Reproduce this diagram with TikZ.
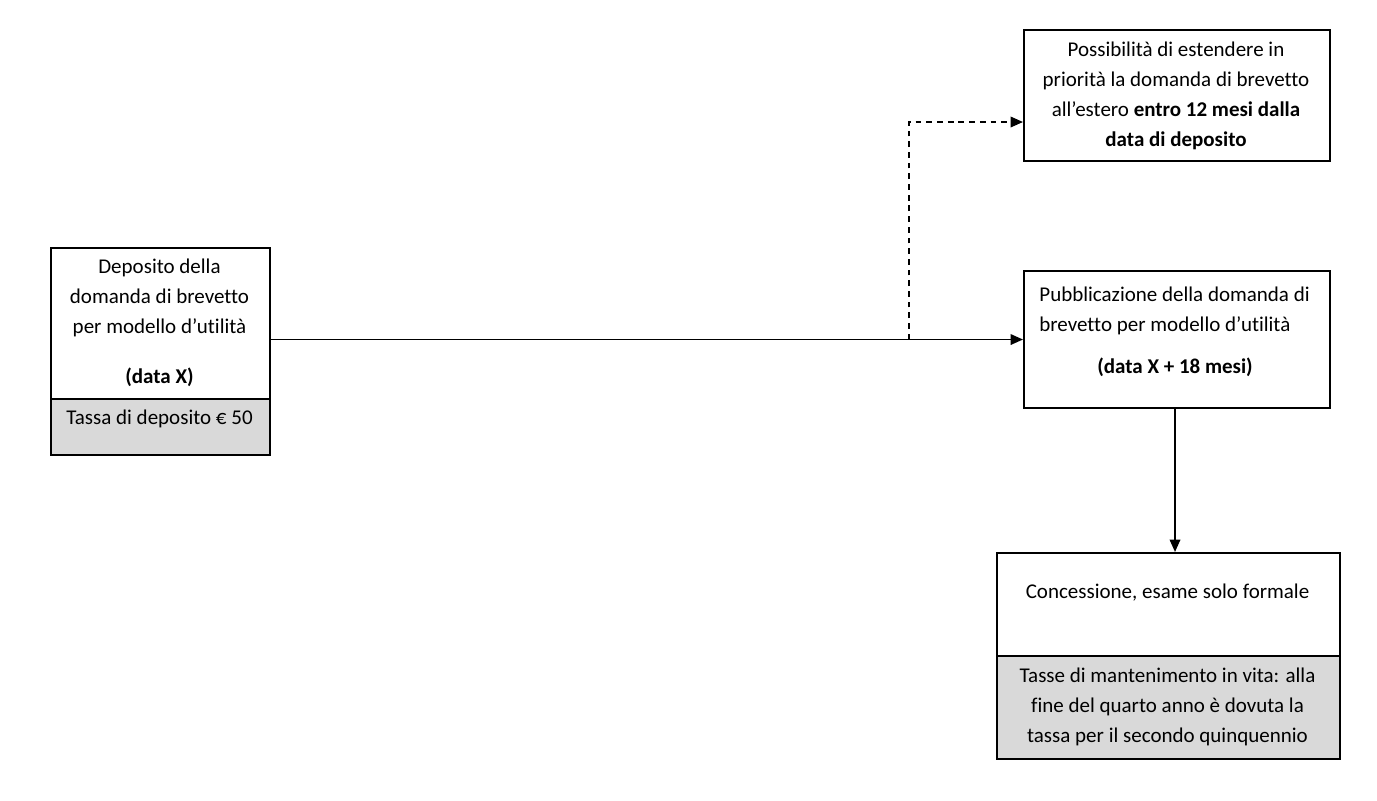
\documentclass[tikz,border=0pt]{standalone}
\usepackage{fontspec}
\setmainfont{Carlito}[Ligatures={NoCommon}]
\usetikzlibrary{arrows.meta,calc}
\newlength\px \setlength\px{0.5238pt}
\definecolor{boxgray}{HTML}{D9D9D9}
\begin{document}
\begin{tikzpicture}[x=0.5238pt,y=-0.5238pt,
  box/.style={draw, line width=1.05pt, inner sep=0pt, anchor=north west},
  graybox/.style={box, fill=boxgray},
  txt/.style={font=\fontsize{11}{15.7}\selectfont, align=center, inner sep=0pt},
  conn/.style={line width=1pt, -{Triangle[length=6.5pt,width=5.5pt]}},
  dashconn/.style={conn, dash pattern=on 3pt off 2.6pt}]
\useasboundingbox (0,0) rectangle (1377,800);
% boxes
\node[box, minimum width=219\px, minimum height=151\px] (dep) at (50,247) {};
\node[graybox, minimum width=219\px, minimum height=56\px] (depg) at (50,398) {};
\node[box, minimum width=306\px, minimum height=131\px] (est) at (1023,29) {};
\node[box, minimum width=306\px, minimum height=137\px] (pub) at (1023,270) {};
\node[box, minimum width=343\px, minimum height=103\px] (con) at (996,552) {};
\node[graybox, minimum width=343\px, minimum height=103\px] (cong) at (996,655) {};
% texts
\node[txt] (dept) at (159.5,298) {Deposito della\\domanda di brevetto\\per modello d’utilità};
\node[txt, font=\fontsize{11}{15.7}\selectfont\bfseries] (depx) at (159.5,377) {(data X)};
\node[txt] (tassa) at (159.5,419) {Tassa di deposito € 50};
\node[txt] (estt) at (1176,95.5) {Possibilità di estendere in\\priorità la domanda di brevetto\\all’estero \textbf{entro 12 mesi dalla}\\\textbf{data di deposito}};
\node[txt, align=left, anchor=west] (pubt) at (1039,311) {Pubblicazione della domanda di\\brevetto per modello d’utilità};
\node[txt, font=\fontsize{11}{15.7}\selectfont\bfseries] (pubx) at (1175,367) {(data X + 18 mesi)};
\node[txt] (cont) at (1167.5,593) {Concessione, esame solo formale};
\node[txt] (mant) at (1167.5,707) {Tasse di mantenimento in vita: alla\\fine del quarto anno è dovuta la\\tassa per il secondo quinquennio};
% connectors
\draw[conn] (dep.east |- pub.west) -- (pub.west);
\coordinate (br) at ($(dep.east |- pub.west)!0.848!(pub.west)$);
\coordinate (estin) at ($(est.south west)+(0,-40)$);
\draw[dashconn] (br) |- (estin);
\draw[conn] (pub.south -| 1175,0) -- (con.north -| 1175,0);
\end{tikzpicture}
\end{document}
